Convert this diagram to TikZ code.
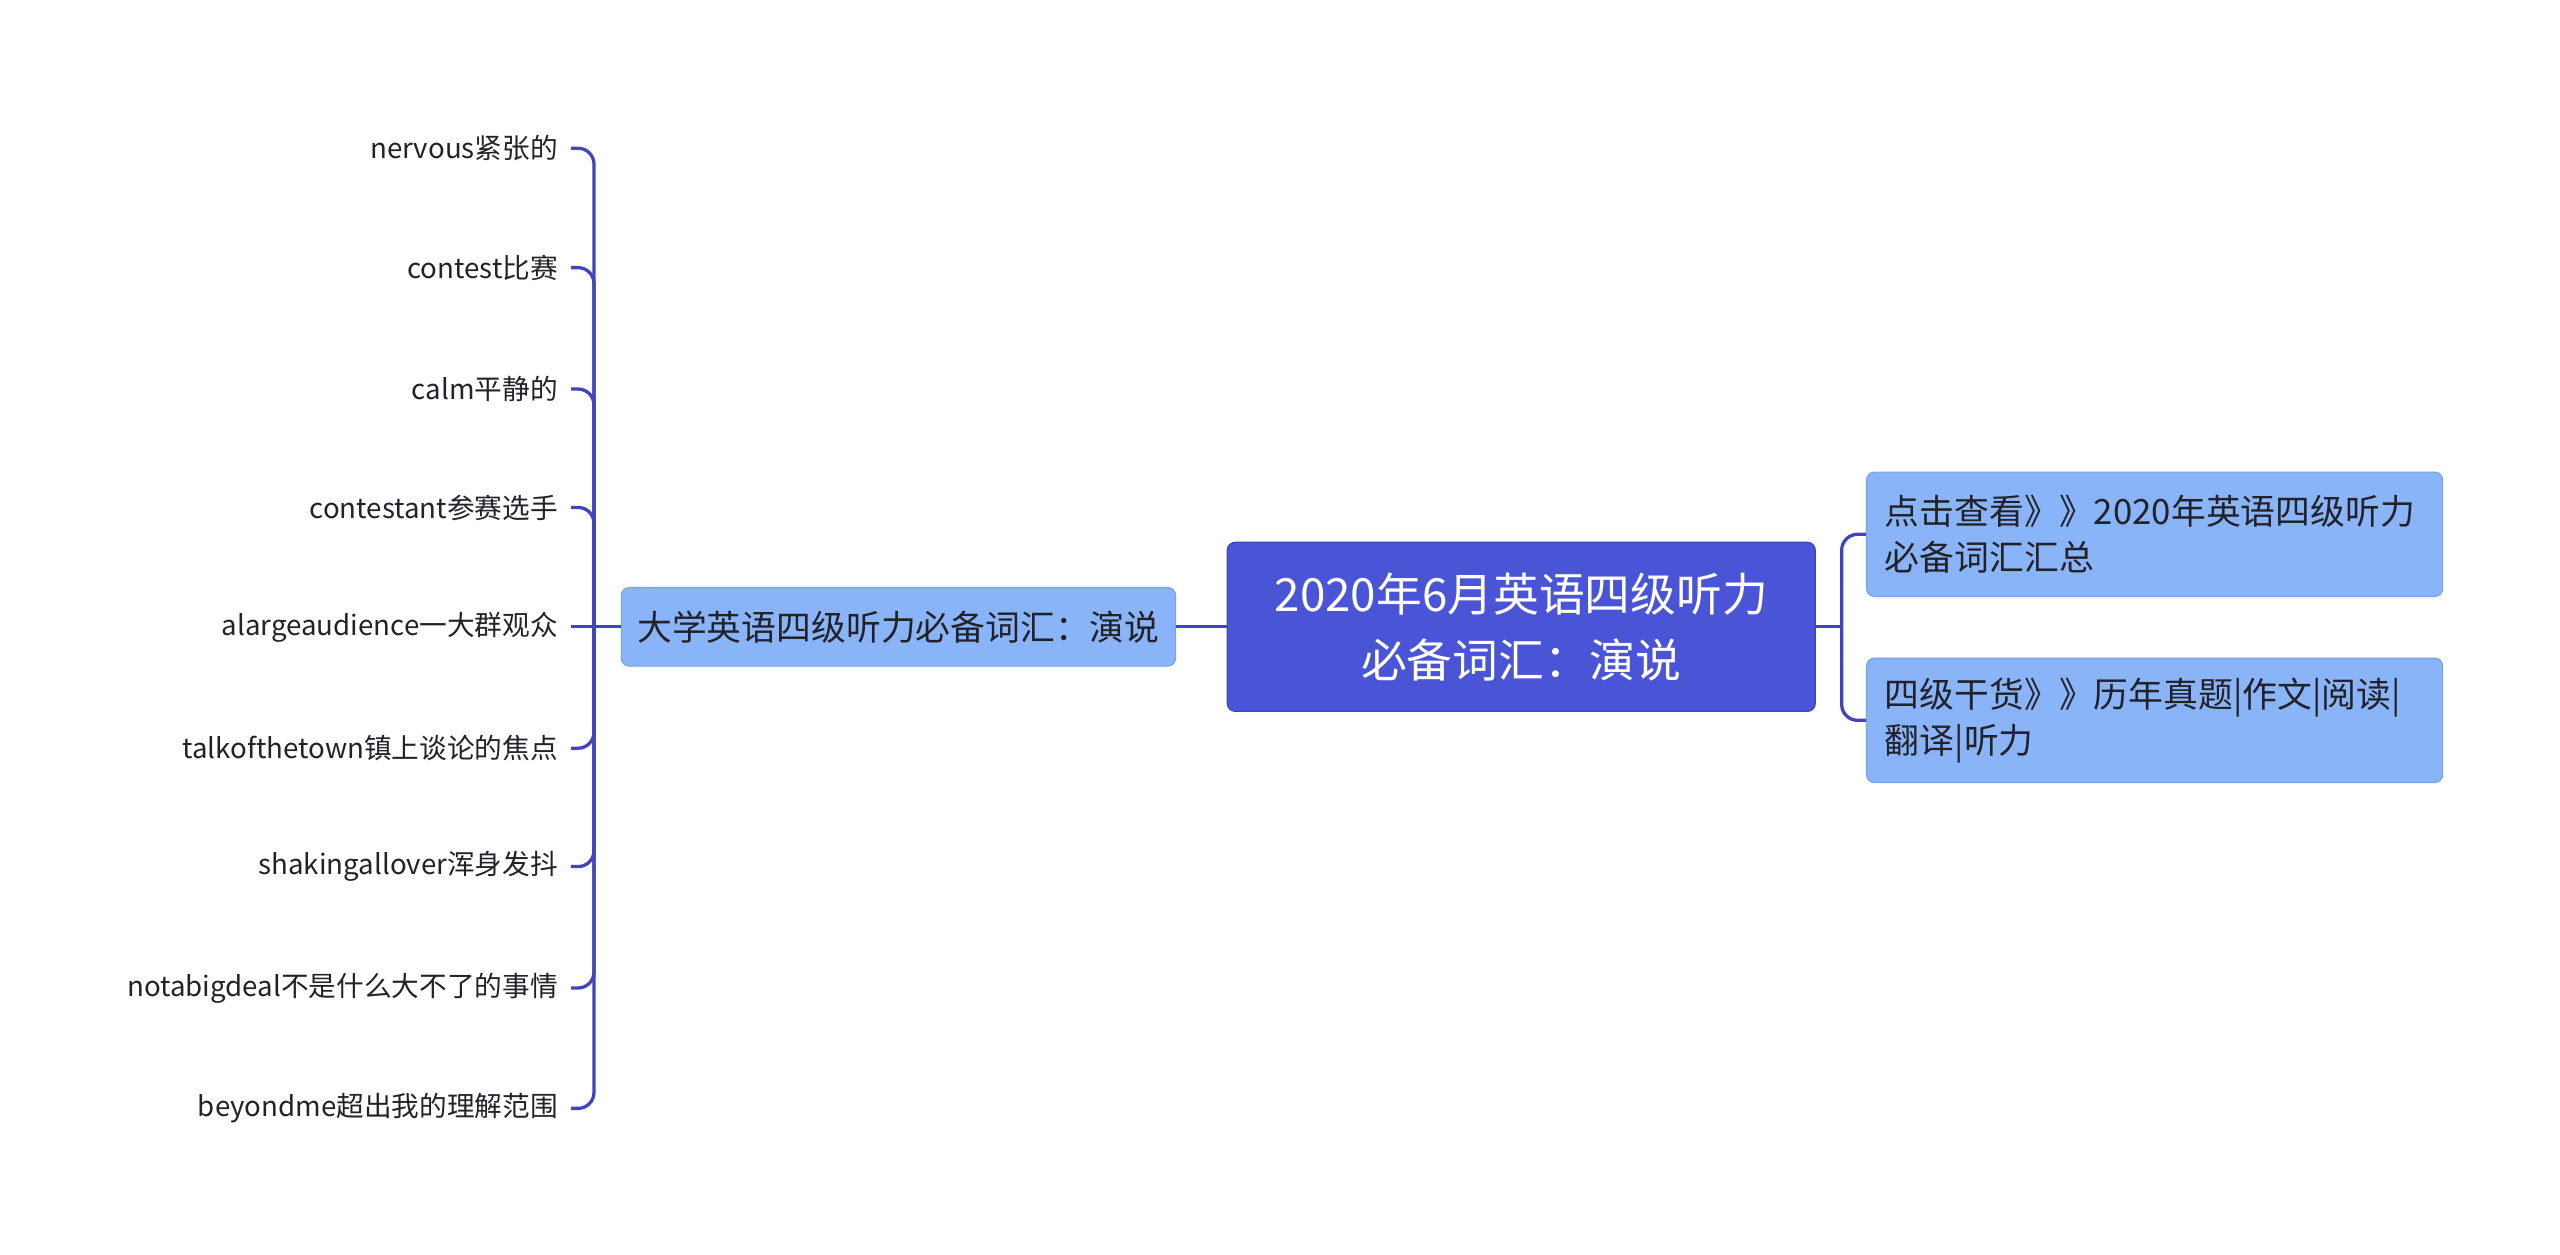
\documentclass[tikz,border=0pt]{standalone}
\usepackage{fontspec}
\setmainfont{Noto Sans CJK SC}
\definecolor{linec}{RGB}{64,68,192}
\definecolor{rootfill}{RGB}{74,84,214}
\definecolor{subfill}{RGB}{138,180,248}
\definecolor{subdraw}{RGB}{120,162,236}
\definecolor{txt}{RGB}{34,34,40}
\tikzset{
  rootbox/.style={draw=rootfill!85!black, line width=0.6pt, fill=rootfill, rounded corners=4pt, text=white,
    minimum width=295.5pt, minimum height=85pt, align=center, inner sep=0pt,
    font=\fontsize{23}{33}\selectfont},
  subbox/.style={draw=subdraw, line width=0.6pt, fill=subfill, rounded corners=4pt, text=txt, inner sep=0pt,
    font=\fontsize{17.5}{23}\selectfont},
  leafbox/.style={anchor=east, inner xsep=6.5pt, inner ysep=2pt, text=txt, font=\fontsize{13.9}{16}\selectfont},
  conn/.style={draw=linec, line width=1.65pt},
}
\begin{document}
\begin{tikzpicture}[x=0.5pt,y=-0.5pt]
\useasboundingbox[fill=white] (0,0) rectangle (2573,1261);

\node[rootbox] (root) at (1529,630) {2020年6月英语四级听力\\必备词汇：演说};
\node[subbox, minimum width=278.5pt, minimum height=39.5pt] (left) at (903,630) {大学英语四级听力必备词汇：演说};
\node[subbox, minimum width=289.5pt, minimum height=62.5pt, text width=271pt, inner xsep=9.25pt, align=left] (r1) at (2165.5,537) {点击查看》》2020年英语四级听力\\必备词汇汇总};
\node[subbox, minimum width=289.5pt, minimum height=62.5pt, text width=271pt, inner xsep=9.25pt, align=left] (r2) at (2165.5,724) {四级干货》》历年真题|作文|阅读|\\翻译|听力};

\coordinate (rb) at (1851,630);
\coordinate (lb) at (597,630);

\draw[conn] (root.east) -- (rb);
\draw[conn, rounded corners=8pt] (rb) |- (r1.west);
\draw[conn, rounded corners=8pt] (rb) |- (r2.west);
\draw[conn] (root.west) -- (left.east);
\draw[conn] (left.west) -- (lb);

\node[leafbox] (l1) at (574,149) {nervous紧张的};
\node[leafbox] (l2) at (574,269) {contest比赛};
\node[leafbox] (l3) at (574,391) {calm平静的};
\node[leafbox] (l4) at (574,510) {contestant参赛选手};
\node[leafbox] (l5) at (574,630) {alargeaudience一大群观众};
\node[leafbox] (l6) at (574,752) {talkofthetown镇上谈论的焦点};
\node[leafbox] (l7) at (574,871) {shakingallover浑身发抖};
\node[leafbox] (l8) at (574,993) {notabigdeal不是什么大不了的事情};
\node[leafbox] (l9) at (574,1114) {beyondme超出我的理解范围};

\foreach \n in {l1,l2,l3,l4,l6,l7,l8,l9}{
  \draw[conn, rounded corners=8pt] (lb) |- (\n.east);
}
\draw[conn] (lb) -- (l5.east);
\end{tikzpicture}
\end{document}
